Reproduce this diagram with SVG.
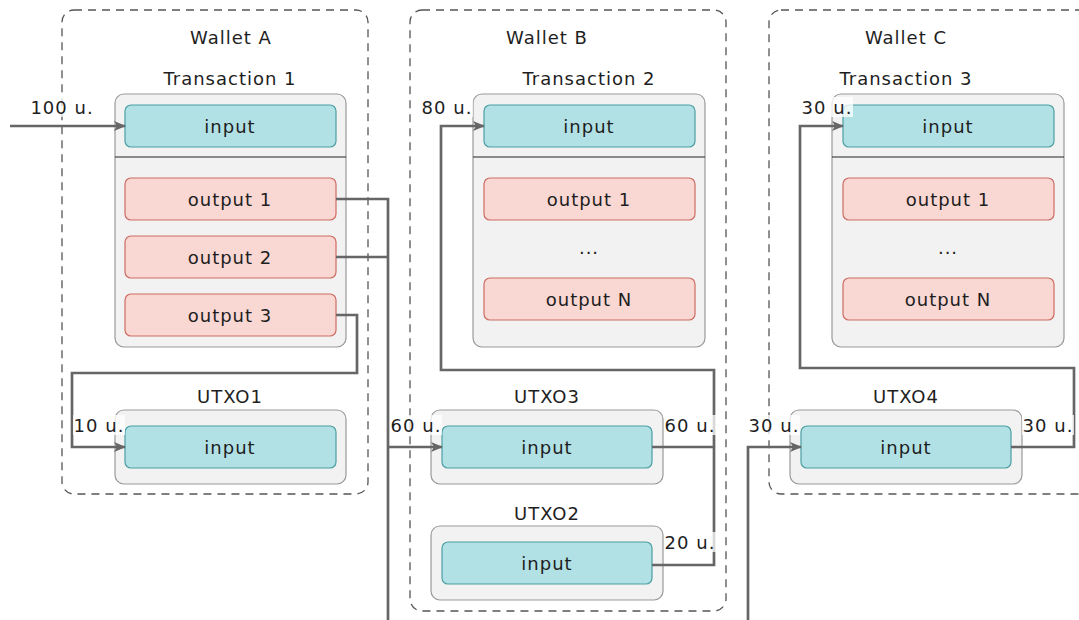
<svg xmlns="http://www.w3.org/2000/svg" width="1079" height="620" viewBox="0 0 1079 620">
  <defs>
    <style>
      text { font-family: "DejaVu Sans", "Noto Sans", sans-serif; font-size: 18px; fill: #1e1e1e; letter-spacing: 1px; text-anchor: middle; dominant-baseline: central; }
      .wallet { fill: none; stroke: #555; stroke-width: 1.3; stroke-dasharray: 8 6; }
      .group { fill: #f2f2f2; stroke: #9a9a9a; stroke-width: 1.2; }
      .in { fill: #b1e1e4; stroke: #4b9fa3; stroke-width: 1.2; }
      .out { fill: #f9d7d3; stroke: #cd6c62; stroke-width: 1.2; }
      .sep { stroke: #222; stroke-width: 1.2; }
      .edge { fill: none; stroke: #666; stroke-width: 2.7; }
      .tag { fill: #fff; fill-opacity: 0.75; }
    </style>
    <marker id="arrow" viewBox="0 0 12 10" refX="11" refY="5" markerWidth="12" markerHeight="10" markerUnits="userSpaceOnUse" orient="auto">
      <path d="M0,0 L12,5 L0,10 L3,5 Z" fill="#666"/>
    </marker>
  </defs>

  <!-- wallets -->
  <g id="walletA">
    <rect class="wallet" x="62" y="10" width="306" height="484" rx="12"/>
    <text x="231" y="37">Wallet A</text>
  </g>
  <g id="walletB">
    <rect class="wallet" x="410" y="10" width="316" height="601" rx="12"/>
    <text x="547" y="37">Wallet B</text>
  </g>
  <g id="walletC">
    <rect class="wallet" x="769" y="10" width="330" height="484" rx="12"/>
    <text x="906" y="37">Wallet C</text>
  </g>

  <!-- transaction 1 -->
  <g id="tx1">
    <text x="230" y="78">Transaction 1</text>
    <rect class="group" x="115" y="94" width="231" height="253" rx="9"/>
    <line class="sep" x1="115" y1="157" x2="346" y2="157"/>
    <rect class="in" x="125" y="105" width="211" height="42" rx="6"/>
    <text x="230" y="126">input</text>
    <rect class="out" x="125" y="178" width="211" height="42" rx="6"/>
    <text x="230" y="199">output 1</text>
    <rect class="out" x="125" y="236" width="211" height="42" rx="6"/>
    <text x="230" y="257">output 2</text>
    <rect class="out" x="125" y="294" width="211" height="42" rx="6"/>
    <text x="230" y="315">output 3</text>
  </g>

  <g id="utxo1">
    <text x="230" y="396">UTXO1</text>
    <rect class="group" x="115" y="410" width="231" height="74" rx="9"/>
    <rect class="in" x="125" y="426" width="211" height="42" rx="6"/>
    <text x="230" y="447">input</text>
  </g>

  <!-- transaction 2 -->
  <g id="tx2">
    <text x="589" y="78">Transaction 2</text>
    <rect class="group" x="473" y="94" width="232" height="253" rx="9"/>
    <line class="sep" x1="473" y1="157" x2="705" y2="157"/>
    <rect class="in" x="484" y="105" width="211" height="42" rx="6"/>
    <text x="589" y="126">input</text>
    <rect class="out" x="484" y="178" width="211" height="42" rx="6"/>
    <text x="589" y="199">output 1</text>
    <text x="589" y="247">...</text>
    <rect class="out" x="484" y="278" width="211" height="42" rx="6"/>
    <text x="589" y="299">output N</text>
  </g>

  <g id="utxo3">
    <text x="547" y="396">UTXO3</text>
    <rect class="group" x="431" y="410" width="232" height="74" rx="9"/>
    <rect class="in" x="442" y="426" width="210" height="42" rx="6"/>
    <text x="547" y="447">input</text>
  </g>

  <g id="utxo2">
    <text x="547" y="513">UTXO2</text>
    <rect class="group" x="431" y="526" width="232" height="74" rx="9"/>
    <rect class="in" x="442" y="542" width="210" height="42" rx="6"/>
    <text x="547" y="563">input</text>
  </g>

  <!-- transaction 3 -->
  <g id="tx3">
    <text x="906" y="78">Transaction 3</text>
    <rect class="group" x="832" y="94" width="232" height="253" rx="9"/>
    <line class="sep" x1="832" y1="157" x2="1064" y2="157"/>
    <rect class="in" x="843" y="105" width="211" height="42" rx="6"/>
    <text x="948" y="126">input</text>
    <rect class="out" x="843" y="178" width="211" height="42" rx="6"/>
    <text x="948" y="199">output 1</text>
    <text x="948" y="247">...</text>
    <rect class="out" x="843" y="278" width="211" height="42" rx="6"/>
    <text x="948" y="299">output N</text>
  </g>

  <g id="utxo4">
    <text x="906" y="396">UTXO4</text>
    <rect class="group" x="790" y="410" width="232" height="74" rx="9"/>
    <rect class="in" x="801" y="426" width="210" height="42" rx="6"/>
    <text x="906" y="447">input</text>
  </g>

  <!-- connectors -->
  <g id="edges">
    <path class="edge" d="M10,126 H125" marker-end="url(#arrow)"/>
    <path class="edge" d="M336,199 H388 V620"/>
    <path class="edge" d="M336,257 H388"/>
    <path class="edge" d="M388,447 H442" marker-end="url(#arrow)"/>
    <path class="edge" d="M336,315 H357 V373 H72 V447 H125" marker-end="url(#arrow)"/>
    <path class="edge" d="M652,447 H714"/>
    <path class="edge" d="M652,565 H714 V370 H441 V126 H484" marker-end="url(#arrow)"/>
    <path class="edge" d="M748,620 V447 H801" marker-end="url(#arrow)"/>
    <path class="edge" d="M1011,447 H1074 V368 H800 V126 H843" marker-end="url(#arrow)"/>
  </g>

  <!-- connector labels -->
  <g id="labels">
    <rect class="tag" x="33" y="97" width="58" height="20"/>
    <text x="62" y="107">100 u.</text>
    <rect class="tag" x="421" y="97" width="52" height="20"/>
    <text x="447" y="107">80 u.</text>
    <rect class="tag" x="801" y="97" width="52" height="20"/>
    <text x="827" y="107">30 u.</text>
    <rect class="tag" x="73" y="415" width="52" height="20"/>
    <text x="99" y="425">10 u.</text>
    <rect class="tag" x="390" y="415" width="52" height="20"/>
    <text x="416" y="425">60 u.</text>
    <rect class="tag" x="664" y="415" width="52" height="20"/>
    <text x="690" y="425">60 u.</text>
    <rect class="tag" x="664" y="532" width="52" height="20"/>
    <text x="690" y="542">20 u.</text>
    <rect class="tag" x="748" y="415" width="52" height="20"/>
    <text x="774" y="425">30 u.</text>
    <rect class="tag" x="1022" y="415" width="52" height="20"/>
    <text x="1048" y="425">30 u.</text>
  </g>
</svg>
